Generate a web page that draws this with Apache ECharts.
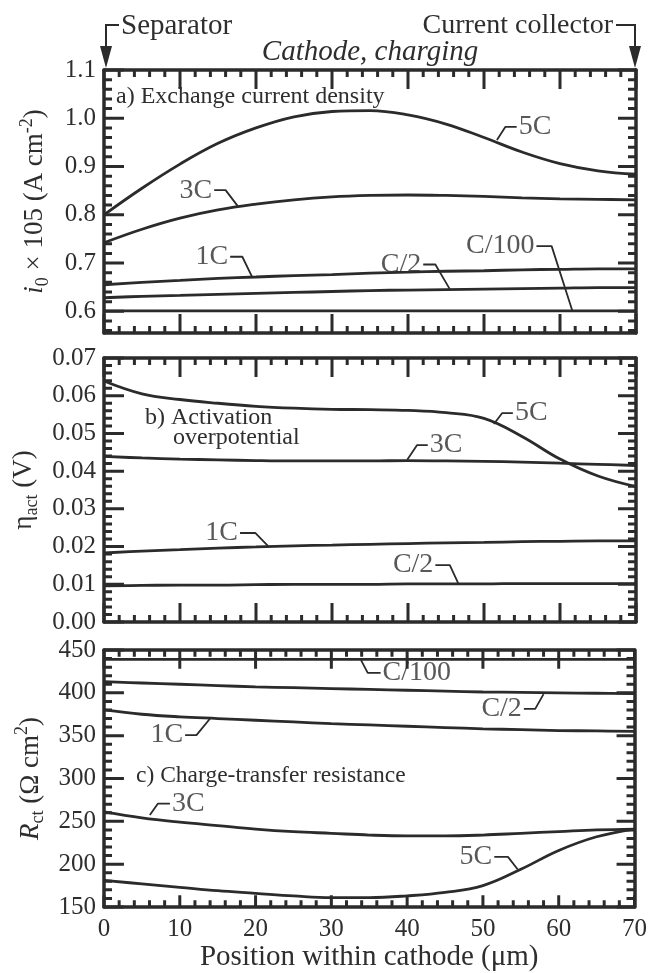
<!DOCTYPE html>
<html>
<head>
<meta charset="utf-8">
<script src="https://cdn.jsdelivr.net/npm/echarts@6/dist/echarts.min.js"></script>
<style>html,body{margin:0;padding:0;background:#fff}#chart{width:650px;height:973px}</style>
</head>
<body>
<div id="chart"></div>
<script>
// ---------- data ----------
const xs = [0, 5, 10, 15, 20, 25, 30, 35, 40, 45, 50, 55, 60, 65, 70];
const xTickLabels = [0, 10, 20, 30, 40, 50, 60, 70];
const aTickLabels = [0.6, 0.7, 0.8, 0.9, 1.0, 1.1];
const bTickLabels = [0.00, 0.01, 0.02, 0.03, 0.04, 0.05, 0.06, 0.07];
const cTickLabels = [150, 200, 250, 300, 350, 400, 450];

// a) exchange current density
const a5C   = [0.800,0.855,0.905,0.948,0.980,1.003,1.014,1.016,1.007,0.988,0.960,0.930,0.906,0.891,0.884];
const a3C   = [0.742,0.770,0.793,0.810,0.822,0.831,0.837,0.840,0.841,0.840,0.838,0.835,0.833,0.832,0.831];
const a1C   = [0.655,0.660,0.664,0.668,0.671,0.674,0.676,0.679,0.681,0.683,0.684,0.686,0.687,0.688,0.688];
const aC2   = [0.628,0.631,0.633,0.635,0.637,0.639,0.641,0.643,0.644,0.645,0.646,0.647,0.648,0.649,0.649];
const aC100 = [0.601,0.601,0.601,0.601,0.601,0.601,0.601,0.601,0.601,0.601,0.601,0.601,0.601,0.601,0.601];
// b) activation overpotential
const b5C = [0.0639,0.0605,0.0590,0.0580,0.0572,0.0567,0.0564,0.0563,0.0561,0.0555,0.0540,0.0492,0.0432,0.0387,0.0359];
const b3C = [0.0439,0.0435,0.0432,0.0430,0.0428,0.0427,0.0427,0.0427,0.0428,0.0427,0.0426,0.0424,0.0421,0.0418,0.0415];
const b1C = [0.0183,0.0188,0.0192,0.0196,0.0199,0.0202,0.0204,0.0206,0.0208,0.0210,0.0211,0.0213,0.0214,0.0215,0.0215];
const bC2 = [0.0096,0.0097,0.0098,0.0098,0.0099,0.0100,0.0100,0.0100,0.0101,0.0101,0.0101,0.0102,0.0102,0.0102,0.0102];
// c) charge-transfer resistance
const cC100 = [439,439,439,439,439,439,439,439,439,439,439,439,439,439,439];
const cC2   = [413,411.5,410,408.5,407,406,405,404,403,402,401,400.5,400,399.5,399];
const c1C   = [380,375,372,370,368,366,364,362.5,361,359.5,358,357,356,355.5,355];
const c3C   = [261,254,249,245,241,238,236,234,233,233,234,236,238,240,241];
const c5C   = [181,177,173,169,166,163,161,161,163,167,175,194,216,232,241];

// curve annotations: [panel, text, side, leader points in data coords]
const notes = [
  [0, '5C',    'right', [[51.7,0.955],[52.8,0.982],[54.3,0.982]]],
  [0, '3C',    'left',  [[14.5,0.851],[16.0,0.851],[17.6,0.818]]],
  [0, '1C',    'left',  [[16.6,0.713],[18.2,0.713],[19.5,0.671]]],
  [0, 'C/2',   'left',  [[42.0,0.697],[43.6,0.697],[45.5,0.646]]],
  [0, 'C/100', 'left',  [[56.9,0.735],[58.9,0.735],[61.6,0.602]]],
  [1, '5C',    'right', [[51.3,0.0525],[52.4,0.0554],[53.8,0.0554]]],
  [1, '3C',    'right', [[39.9,0.0430],[41.2,0.0469],[42.6,0.0469]]],
  [1, '1C',    'left',  [[17.9,0.0236],[19.9,0.0236],[21.6,0.0201]]],
  [1, 'C/2',   'left',  [[43.6,0.0151],[45.5,0.0151],[46.6,0.0103]]],
  [2, 'C/100', 'right', [[33.9,438.5],[34.8,423.3],[36.5,423.3]]],
  [2, 'C/2',   'left',  [[55.4,381.3],[56.9,381.3],[58.0,398.5]]],
  [2, '1C',    'left',  [[10.7,350.7],[12.2,350.7],[14.0,370]]],
  [2, '3C',    'right', [[6.05,257.3],[7.1,270.6],[8.7,270.6]]],
  [2, '5C',    'left',  [[51.5,208.5],[53.3,208.5],[54.6,193.8]]]
];

// ---------- layout / style ----------
const FONT = '"Liberation Serif", "Times New Roman", serif';
const INK = '#2b2b2b';
const TXT = '#2e2e2e';
const grids = [
  {left: 104, width: 532, top: 70,  height: 263},
  {left: 104, width: 532, top: 358, height: 264},
  {left: 104, width: 532, top: 650, height: 262}
];
const X_MIN = 0, X_MAX = 70;

function steps(lo, hi, step) {
  const out = [];
  const n = Math.round((hi - lo) / step);
  for (let k = 0; k <= n; k++) out.push(+(lo + k * step).toFixed(6));
  return out;
}
const xMinor = steps(0, 70, 2).filter(v => v % 10 !== 0);

const yConf = [
  {min: 0.555, max: 1.1, major: aTickLabels,
   minor: steps(0.56, 1.1, 0.02).filter(v => Math.round(v * 100) % 10 !== 0),
   fmt: v => v.toFixed(1),
   name: '{it|i}{sub|0}{n| × 105 (A cm}{sup|-2}{n|)}', gap: 52},
  {min: 0, max: 0.07, major: bTickLabels,
   minor: steps(0, 0.07, 0.002).filter(v => Math.round(v * 1000) % 10 !== 0),
   fmt: v => v.toFixed(2),
   name: '{n|η}{sub|act}{n| (V)}', gap: 60},
  {min: 150, max: 450, major: cTickLabels,
   minor: steps(150, 450, 10).filter(v => v % 50 !== 0),
   fmt: v => String(Math.round(v)),
   name: '{it|R}{sub|ct}{n| (Ω cm}{sup|2}{n|)}', gap: 54}
];

const nameRich = {
  n:   {fontFamily: FONT, fontSize: 27, color: TXT, lineHeight: 34},
  it:  {fontFamily: FONT, fontSize: 27, color: TXT, fontStyle: 'italic', lineHeight: 34},
  sub: {fontFamily: FONT, fontSize: 18, color: TXT, verticalAlign: 'bottom', lineHeight: 16},
  sup: {fontFamily: FONT, fontSize: 18, color: TXT, verticalAlign: 'top', lineHeight: 18}
};

const lineStyleAx = {color: INK, width: 3.5};
const xAxis = [], yAxis = [];
const xIdx = [], yIdx = [];
grids.forEach((g, gi) => {
  const bx = {type: 'value', gridIndex: gi, min: X_MIN, max: X_MAX, interval: 10,
              splitLine: {show: false}, axisTick: {show: false}};
  xIdx.push(xAxis.length);
  xAxis.push(Object.assign({}, bx, {
    position: 'bottom',
    axisLine: {show: true, onZero: false, lineStyle: lineStyleAx},
    axisLabel: {show: gi === 2, customValues: xTickLabels, margin: 10,
                fontFamily: FONT, fontSize: 25, color: TXT},
    name: gi === 2 ? 'Position within cathode (μm)' : '',
    nameLocation: 'middle', nameGap: 36,
    nameTextStyle: {fontFamily: FONT, fontSize: 29, color: TXT}
  }));
  xAxis.push(Object.assign({}, bx, {
    position: 'top',
    axisLine: {show: true, onZero: false, lineStyle: lineStyleAx},
    axisLabel: {show: false}
  }));

  const c = yConf[gi];
  const yb = {type: 'value', gridIndex: gi, min: c.min, max: c.max, splitNumber: 5,
              splitLine: {show: false}, axisTick: {show: false}};
  yIdx.push(yAxis.length);
  yAxis.push(Object.assign({}, yb, {
    position: 'left',
    axisLine: {show: true, onZero: false, lineStyle: lineStyleAx},
    axisLabel: {show: true, customValues: c.major, formatter: c.fmt, margin: 8,
                fontFamily: FONT, fontSize: 25, color: TXT},
    name: c.name, nameLocation: 'middle', nameRotate: 90, nameGap: c.gap,
    nameTextStyle: {rich: nameRich}
  }));
  yAxis.push(Object.assign({}, yb, {
    position: 'right',
    axisLine: {show: true, onZero: false, lineStyle: lineStyleAx},
    axisLabel: {show: false}
  }));
});

const panelSeries = [
  [0, '5C', a5C], [0, '3C', a3C], [0, '1C', a1C], [0, 'C/2', aC2], [0, 'C/100', aC100],
  [1, '5C', b5C], [1, '3C', b3C], [1, '1C', b1C], [1, 'C/2', bC2],
  [2, '5C', c5C], [2, '3C', c3C], [2, '1C', c1C], [2, 'C/2', cC2], [2, 'C/100', cC100]
];

const series = [];
panelSeries.forEach(([gi, nm, vals]) => {
  series.push({
    type: 'line', name: nm, xAxisIndex: xIdx[gi], yAxisIndex: yIdx[gi],
    data: xs.map((x, i) => [x, vals[i]]),
    smooth: 0.4, showSymbol: false, symbol: 'none',
    lineStyle: {color: INK, width: 2.8}, silent: true, z: 3
  });
});
notes.forEach(([gi, text, side, pts]) => {
  series.push({
    type: 'line', xAxisIndex: xIdx[gi], yAxisIndex: yIdx[gi],
    data: pts, symbol: 'none', lineStyle: {color: INK, width: 1.8}, silent: true, z: 3
  });
  const anchor = side === 'right' ? pts[pts.length - 1] : pts[0];
  series.push({
    type: 'scatter', xAxisIndex: xIdx[gi], yAxisIndex: yIdx[gi],
    data: [anchor], symbolSize: 0, silent: true, z: 4,
    label: {show: true, position: side, distance: 2, formatter: text,
            fontFamily: FONT, fontSize: 28, color: TXT}
  });
});

// inward tick marks on all four sides, drawn as broken line segments in data space
grids.forEach((g, gi) => {
  const c = yConf[gi];
  const dy = (c.max - c.min) / g.height;   // data units per pixel (y)
  const dx = (X_MAX - X_MIN) / g.width;    // data units per pixel (x)
  const botLen = gi === 2 ? 12 : 19;
  const segs = [];
  const seg = (p, q) => { segs.push(p, q, null); };
  xTickLabels.forEach(v => {
    seg([v, c.min], [v, c.min + botLen * dy]);
    seg([v, c.max], [v, c.max - 19 * dy]);
  });
  xMinor.forEach(v => {
    seg([v, c.min], [v, c.min + 7 * dy]);
    seg([v, c.max], [v, c.max - 7 * dy]);
  });
  c.major.forEach(v => {
    seg([X_MIN, v], [X_MIN + 20 * dx, v]);
    seg([X_MAX, v], [X_MAX - 18 * dx, v]);
  });
  c.minor.forEach(v => {
    seg([X_MIN, v], [X_MIN + 8 * dx, v]);
    seg([X_MAX, v], [X_MAX - 8 * dx, v]);
  });
  series.push({
    type: 'line', xAxisIndex: xIdx[gi], yAxisIndex: yIdx[gi],
    data: segs, connectNulls: false, symbol: 'none', showSymbol: false,
    clip: false, silent: true, z: 6,
    lineStyle: {color: INK, width: 3, cap: 'butt'}
  });
});

function txt(x, y, text, align, size, extra) {
  return {type: 'text', x: x, y: y,
    style: Object.assign({text: text, fontFamily: FONT, fontSize: size, fill: TXT,
      textAlign: align || 'left', textVerticalAlign: 'middle'}, extra || {})};
}
const graphic = [
  txt(121, 26, 'Separator', 'left', 29),
  txt(613, 26, 'Current collector', 'right', 28),
  txt(370, 52, 'Cathode, charging', 'center', 29, {fontStyle: 'italic'}),
  txt(116, 97, 'a) Exchange current density', 'left', 24),
  txt(145, 418, 'b) Activation', 'left', 24),
  txt(173, 438, 'overpotential', 'left', 24),
  txt(136, 776, 'c) Charge-transfer resistance', 'left', 23.5),
  {type: 'polyline', shape: {points: [[119, 25], [106, 25], [106, 50]]}, style: {stroke: INK, lineWidth: 2, fill: null}},
  {type: 'polygon', shape: {points: [[100, 46], [112, 46], [106, 68]]}, style: {fill: INK}},
  {type: 'polyline', shape: {points: [[616, 25], [635, 25], [635, 50]]}, style: {stroke: INK, lineWidth: 2, fill: null}},
  {type: 'polygon', shape: {points: [[629, 46], [641, 46], [635, 68]]}, style: {fill: INK}}
];

const chart = echarts.init(document.getElementById('chart'), null, {renderer: 'canvas'});
chart.setOption({
  animation: false,
  backgroundColor: '#ffffff',
  grid: grids,
  xAxis: xAxis,
  yAxis: yAxis,
  series: series,
  graphic: graphic
});
</script>
</body>
</html>
